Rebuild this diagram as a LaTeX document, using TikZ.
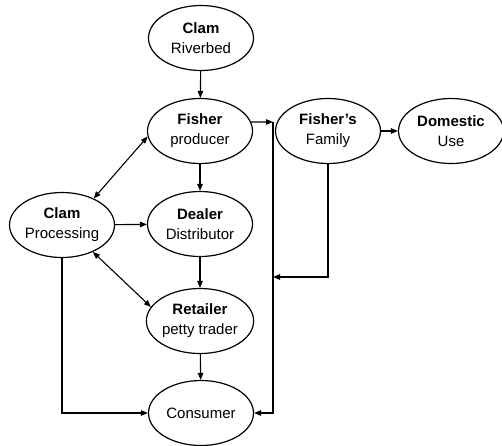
\documentclass[tikz,border=0pt]{standalone}
\usepackage{fontspec}
\setmainfont{Liberation Sans}
\usetikzlibrary{shapes.geometric, arrows.meta, positioning, calc}
\tikzstyle{stage} = [ellipse, minimum width=105pt, minimum height=65pt, inner sep=0pt, align=center, draw=black, line width=1.2pt, font=\fontsize{15}{20}\selectfont]
\tikzstyle{arrow} = [line width=1.1pt,->,>={Triangle[length=7pt,width=5.5pt]}]
\tikzstyle{both} = [line width=1.1pt,<->,>={Triangle[length=7pt,width=5.5pt]}]

\begin{document}
\begin{tikzpicture}[x=1pt, y=-1pt]
\useasboundingbox (0,0) rectangle (502,445);

% Stages
\node[stage] (riverbed) at (201,38) {\textbf{Clam}\\Riverbed};
\node[stage] (producer) at (200,131) {\textbf{Fisher}\\producer};
\node[stage] (family) at (328,131) {\textbf{Fisher's}\\Family};
\node[stage] (domestic) at (451,131) {\textbf{Domestic}\\Use};
\node[stage] (processing) at (62,225) {\textbf{Clam}\\Processing};
\node[stage] (dealer) at (200,224) {\textbf{Dealer}\\Distributor};
\node[stage] (retailer) at (200,321) {\textbf{Retailer}\\petty trader};
\node[stage] (consumer) at (201,413) {Consumer};

% Junctions on the side line
\coordinate (jtop) at (273,122);
\coordinate (jmid) at (273,277);

% Main chain
\draw[arrow] (riverbed) -- (producer);
\draw[arrow] (producer) -- (dealer);
\draw[arrow] (dealer) -- (retailer);
\draw[arrow] (retailer) -- (consumer);
\draw[arrow] (processing) -- (dealer);
\draw[arrow] (family) -- (domestic);

% Side line to consumer
\draw[arrow] (producer.10) -- (jtop);
\draw[arrow] (jtop) |- (consumer.east);
\draw[arrow] (family.south) |- (jmid);
\draw[arrow] (processing.south) |- (consumer.west);

% Two-way links
\draw[both] (processing.40) -- (producer.186);
\draw[both] (processing.319) -- (retailer.164);

\end{tikzpicture}
\end{document}
